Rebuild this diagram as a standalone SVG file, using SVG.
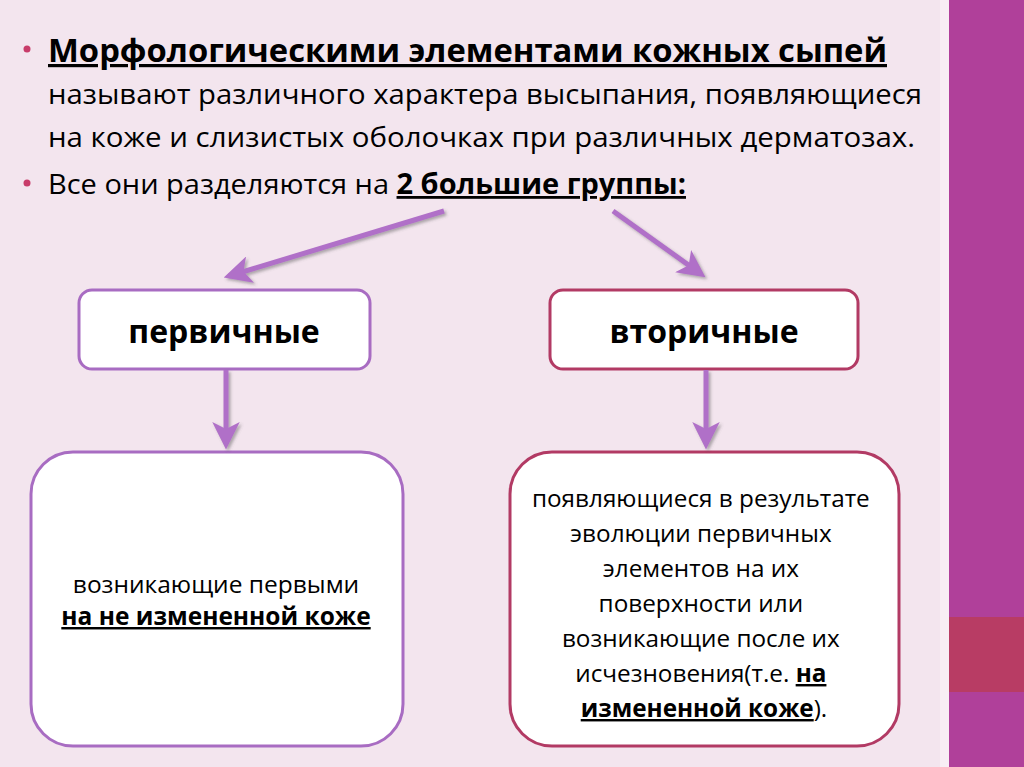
<svg xmlns="http://www.w3.org/2000/svg" width="1024" height="767" viewBox="0 0 1024 767">
<style>
.t{font-family:"Open Sans","Noto Sans","Liberation Sans",sans-serif;fill:#000}
.b{font-weight:bold}
.u{text-decoration:underline}
.pbox{fill:#fff;stroke:#a86cc2;stroke-width:3}
.sbox{fill:#fff;stroke:#b23a64;stroke-width:3}
.arr{stroke:#b070c8;stroke-width:5;fill:none;marker-end:url(#ah);filter:url(#sh)}
</style>
<defs>
<marker id="ah" viewBox="0 0 10 10" refX="8" refY="5" markerWidth="5.5" markerHeight="5.5" orient="auto" markerUnits="strokeWidth">
<path d="M0,0 L10,5 L0,10 L2.5,5 Z" fill="#b070c8"/>
</marker>
<filter id="sh" filterUnits="userSpaceOnUse" x="0" y="0" width="1024" height="767">
<feDropShadow dx="2" dy="2" stdDeviation="1.5" flood-color="#555" flood-opacity="0.45"/>
</filter>
</defs>
<rect x="0" y="0" width="1024" height="767" fill="#f3e5ee"/>
<rect x="940" y="0" width="9" height="767" fill="#f8eef4"/>
<rect x="949" y="0" width="75" height="767" fill="#b0409a"/>
<rect x="949" y="617" width="75" height="75" fill="#b83c64"/>

<g id="intro">
<circle cx="27" cy="49" r="3.5" fill="#c83c6a"/>
<text class="t b u" x="48" y="62" font-size="32" textLength="839" lengthAdjust="spacingAndGlyphs">Морфологическими элементами кожных сыпей</text>
<text class="t" x="48" y="104" font-size="28" textLength="874" lengthAdjust="spacingAndGlyphs">называют различного характера высыпания, появляющиеся</text>
<text class="t" x="48" y="147" font-size="28" textLength="867" lengthAdjust="spacingAndGlyphs">на коже и слизистых оболочках при различных дерматозах.</text>
<circle cx="27" cy="183" r="3.5" fill="#c83c6a"/>
<text class="t" x="48" y="194" font-size="28" textLength="638" lengthAdjust="spacingAndGlyphs">Все они разделяются на <tspan class="b u">2 большие группы:</tspan></text>
</g>

<g id="primary">
<rect class="pbox" x="79" y="290" width="291" height="79" rx="13"/>
<text class="t b" x="224" y="343" font-size="32" text-anchor="middle">первичные</text>
</g>
<g id="secondary">
<rect class="sbox" x="550" y="290" width="308" height="79" rx="13"/>
<text class="t b" x="704" y="343" font-size="32" text-anchor="middle">вторичные</text>
</g>

<g id="primary-desc">
<rect class="pbox" x="31" y="452" width="372" height="294" rx="42"/>
<text class="t" x="216" y="593" font-size="24.5" text-anchor="middle">возникающие первыми</text>
<text class="t b u" x="216" y="625" font-size="24.5" text-anchor="middle">на не измененной коже</text>
</g>
<g id="secondary-desc">
<rect class="sbox" x="510" y="452" width="389" height="294" rx="42"/>
<text class="t" font-size="24.3" text-anchor="middle">
<tspan x="704" y="507">появляющиеся в результате</tspan>
<tspan x="704" y="542">эволюции первичных</tspan>
<tspan x="704" y="577">элементов на их</tspan>
<tspan x="704" y="612">поверхности или</tspan>
<tspan x="704" y="647">возникающие после их</tspan>
<tspan x="704" y="682">исчезновения(т.е. <tspan class="b u">на</tspan></tspan>
<tspan x="704" y="717"><tspan class="b u">измененной коже</tspan>).</tspan>
</text>
</g>

<g id="connectors">
<line class="arr" x1="444" y1="211" x2="229" y2="276"/>
<line class="arr" x1="613" y1="211" x2="701" y2="274"/>
<line class="arr" x1="226" y1="370" x2="226" y2="444"/>
<line class="arr" x1="706" y1="370" x2="706" y2="444"/>
</g>
</svg>
